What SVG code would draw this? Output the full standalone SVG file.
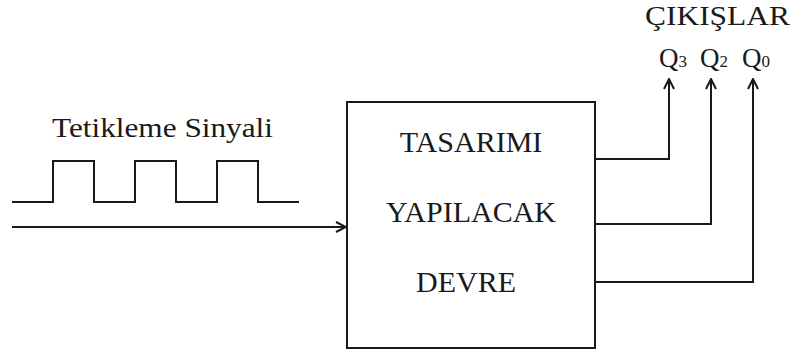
<svg xmlns="http://www.w3.org/2000/svg" width="797" height="352" viewBox="0 0 797 352">
<style>
.t{font-family:'Liberation Serif',Tinos,'Times New Roman',Times,serif;fill:#1a1a1a}
.ln{fill:none;stroke:#1a1a1a;stroke-width:2}
</style>
<defs>
<marker id="ah" viewBox="0 0 12 12" refX="11" refY="6" markerWidth="12" markerHeight="12" markerUnits="userSpaceOnUse" orient="auto">
<path d="M1,1 L11,6 L1,11" fill="none" stroke="#1a1a1a" stroke-width="2"/>
</marker>
</defs>
<rect width="797" height="352" fill="#fff"/>
<g id="title-outputs">
<text class="t" x="645" y="25" font-size="28" textLength="145" lengthAdjust="spacingAndGlyphs">ÇIKIŞLAR</text>
</g>
<g id="q3"><text class="t" x="659" y="67" font-size="27">Q<tspan font-size="17">3</tspan></text></g>
<g id="q2"><text class="t" x="700" y="67" font-size="27">Q<tspan font-size="17">2</tspan></text></g>
<g id="q0"><text class="t" x="742" y="67" font-size="27">Q<tspan font-size="17">0</tspan></text></g>
<g id="signal">
<text class="t" x="52" y="137" font-size="28" textLength="221" lengthAdjust="spacingAndGlyphs">Tetikleme Sinyali</text>
<path class="ln" d="M12,202 H53 V161 H94 V202 H135 V161 H176 V202 H217 V161 H258 V202 H299"/>
</g>
<g id="circuit">
<rect class="ln" x="347" y="102" width="248" height="246"/>
<text class="t" x="471" y="152" font-size="30" text-anchor="middle">TASARIMI</text>
<text class="t" x="471" y="222" font-size="30" text-anchor="middle">YAPILACAK</text>
<text class="t" x="466" y="292" font-size="30" text-anchor="middle">DEVRE</text>
</g>
<g id="connectors">
<path class="ln" d="M12,227 H346" marker-end="url(#ah)"/>
<path class="ln" d="M595,159 H669 V79" marker-end="url(#ah)"/>
<path class="ln" d="M595,224 H711 V79" marker-end="url(#ah)"/>
<path class="ln" d="M595,282 H753 V79" marker-end="url(#ah)"/>
</g>
</svg>
